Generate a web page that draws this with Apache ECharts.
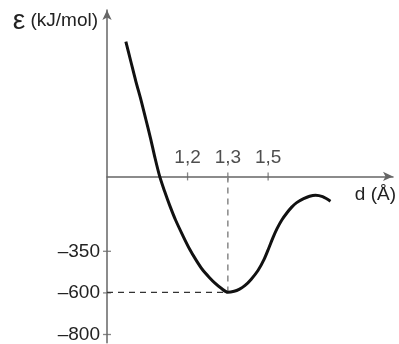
<!DOCTYPE html>
<html>
<head>
<meta charset="utf-8">
<script src="https://cdn.jsdelivr.net/npm/echarts@6/dist/echarts.min.js"></script>
<style>
  html, body { margin: 0; padding: 0; background: #fff; }
  #chart { width: 399px; height: 344px; }
</style>
</head>
<body>
<div id="chart"></div>
<script>
// Schematic potential-energy curve (axes not to scale: ticks are evenly spaced).
// Positions are in schematic grid units; labels give the physical values.
const xTickPos = [10, 15, 20];
const xTickLabels = ['1,2', '1,3', '1,5'];
const yTickPos = [-9, -14, -19];
const yTickLabels = ['–350', '–600', '–800'];

// Curve E(d), schematic units
const curveX = [2.34, 2.96, 3.58, 4.19, 4.81, 5.42, 5.92, 6.54, 7.15, 7.77, 8.51, 9.37, 10.23, 11.10, 11.84, 12.70, 13.44, 14.18, 15.00,
                15.78, 16.40, 17.14, 17.88, 18.74, 19.48, 20.10, 20.59, 21.09, 21.70, 22.32, 22.93, 23.55, 24.41, 25.15, 25.89, 26.76, 27.74];
const curveY = [16.19, 13.81, 11.43, 9.29, 6.90, 4.52, 2.38, 0.00, -1.79, -3.45, -5.24, -7.02, -8.69, -10.12, -11.19, -12.14, -12.86, -13.45, -13.93,
                -13.81, -13.57, -13.10, -12.38, -11.31, -10.00, -8.57, -7.38, -6.31, -5.24, -4.40, -3.69, -3.15, -2.68, -2.38, -2.26, -2.44, -2.98];

const FONT = "'Liberation Sans', Arial, sans-serif";
const FS = 19;
const TEXT = '#222';
const AXIS = '#666';

// minimum of the well
let iMin = 0;
curveY.forEach((v, i) => { if (v < curveY[iMin]) iMin = i; });
const minX = curveX[iMin], minY = curveY[iMin];

const curve = curveX.map((x, i) => [x, curveY[i]]);

const chart = echarts.init(document.getElementById('chart'), null, { renderer: 'canvas' });
chart.setOption({
  animation: false,
  grid: { left: 107, right: 4, top: 10, bottom: -2 },
  xAxis: {
    type: 'value', min: 0, max: 35.5,
    splitLine: { show: false },
    axisTick: { show: false },
    axisLabel: { show: false },
    axisLine: { onZero: true, symbol: ['none', 'arrow'], symbolSize: [7, 10],
                lineStyle: { color: AXIS, width: 1.5 } },
    name: 'd (Å)', nameLocation: 'end', nameGap: 3,
    nameTextStyle: { fontFamily: FONT, fontSize: FS, color: TEXT,
                     align: 'right', verticalAlign: 'top', padding: [9, 0, 0, 0] }
  },
  yAxis: {
    type: 'value', min: -20, max: 20,
    splitLine: { show: false },
    axisTick: { show: false },
    axisLine: { onZero: true, symbol: ['none', 'arrow'], symbolSize: [7, 10],
                lineStyle: { color: AXIS, width: 1.5 } },
    axisLabel: {
      customValues: yTickPos, margin: 7,
      formatter: v => yTickLabels[yTickPos.indexOf(v)],
      fontFamily: FONT, fontSize: FS, color: TEXT
    },
    name: '{e|ε} {t|(kJ/mol)}', nameLocation: 'end', nameGap: -11,
    nameTextStyle: { fontFamily: FONT, fontSize: FS, color: TEXT,
                     align: 'right', verticalAlign: 'middle', padding: [0, 9, 0, 0],
                     rich: { e: { fontFamily: FONT, fontSize: 28, color: TEXT },
                             t: { fontFamily: FONT, fontSize: FS, color: TEXT } } }
  },
  series: [
    { // tick marks crossing the x axis, labelled above
      type: 'scatter', symbol: 'rect', symbolSize: [1.3, 8], silent: true,
      itemStyle: { color: AXIS },
      label: { show: true, position: 'top', distance: 5,
               formatter: p => xTickLabels[p.dataIndex],
               fontFamily: FONT, fontSize: FS, color: TEXT },
      data: xTickPos.map(x => [x, 0])
    },
    { // tick marks crossing the y axis
      type: 'scatter', symbol: 'rect', symbolSize: [8, 1.3], silent: true,
      itemStyle: { color: AXIS },
      data: yTickPos.map(y => [0, y])
    },
    { // guide from the minimum to the energy axis
      type: 'line', showSymbol: false, silent: true,
      lineStyle: { color: '#333', width: 1.3, type: [6, 5] },
      data: [[0, minY], [minX, minY]]
    },
    { // guide from the minimum to the distance axis
      type: 'line', showSymbol: false, silent: true,
      lineStyle: { color: '#888', width: 1.5, type: [6, 5] },
      data: [[minX, 0], [minX, minY]]
    },
    { // energy curve
      type: 'line', showSymbol: false, smooth: 0.3, silent: true,
      lineStyle: { color: '#111', width: 3 },
      data: curve
    }
  ]
});
</script>
</body>
</html>
